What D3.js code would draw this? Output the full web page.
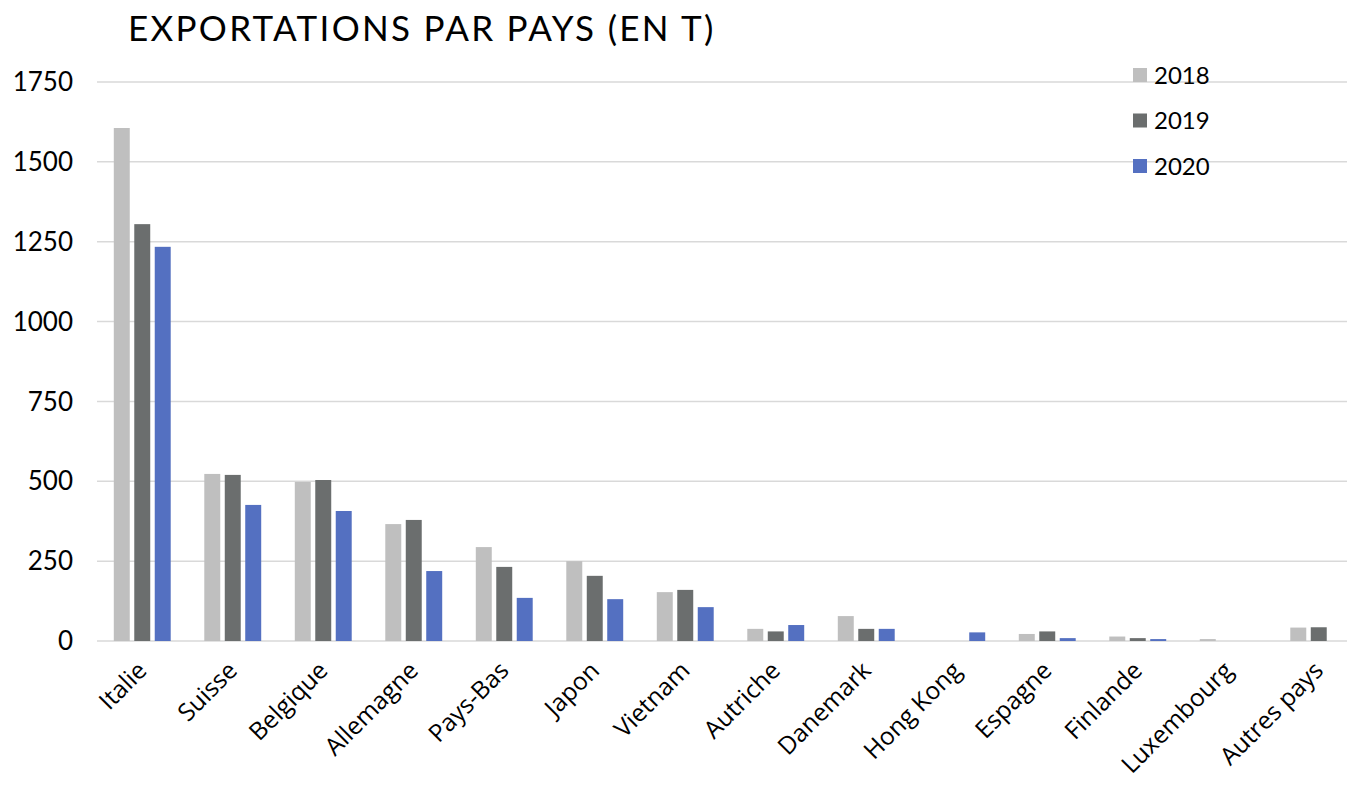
<!DOCTYPE html>
<html>
<head>
<meta charset="utf-8">
<script src="https://cdn.jsdelivr.net/npm/d3@7"></script>
<style>
  body { margin: 0; background: #fff; }
  svg { display: block; }
</style>
</head>
<body>
<svg id="chart" width="1347" height="787"></svg>
<script>
const countries = ['Italie', 'Suisse', 'Belgique', 'Allemagne', 'Pays-Bas', 'Japon', 'Vietnam',
  'Autriche', 'Danemark', 'Hong Kong', 'Espagne', 'Finlande', 'Luxembourg', 'Autres pays']
const years = ['2018', '2019', '2020']
const v2018 = [1606, 523, 498, 366, 294, 250, 153, 38, 78, 0, 22, 14, 6, 42]
const v2019 = [1305, 520, 504, 379, 232, 204, 160, 30, 38, 0, 30, 9, 0, 43]
const v2020 = [1234, 426, 407, 219, 135, 131, 106, 50, 38, 27, 9, 6, 0, 0]
const yTicks = [0, 250, 500, 750, 1000, 1250, 1500, 1750]
const colors = ['#bfbfbf', '#6b6e6e', '#5470c1']

const series = [v2018, v2019, v2020]
const rows = countries.map((c, i) => ({ country: c, values: series.map((s, j) => ({ year: years[j], v: s[i] })) }))

const svg = d3.select('#chart')
const width = +svg.attr('width')
const height = +svg.attr('height')
// plot area runs a little past the right edge of the picture (cropped like the original)
const margin = { left: 97, right: -17, top: 82, bottom: 146 }

const x = d3.scaleBand().domain(countries).range([margin.left, width - margin.right])
const x1 = d3.scaleBand().domain(years).range([0, x.bandwidth()]).paddingInner(0.22).paddingOuter(0.82)
const y = d3.scaleLinear().domain([0, 1750]).range([height - margin.bottom, margin.top])

// grid
svg.append('g')
  .selectAll('line')
  .data(yTicks)
  .join('line')
  .attr('x1', margin.left)
  .attr('x2', width)
  .attr('y1', d => y(d))
  .attr('y2', d => y(d))
  .attr('stroke', '#d9d9d9')
  .attr('stroke-width', 1.5)

// y labels
svg.append('g')
  .selectAll('text')
  .data(yTicks)
  .join('text')
  .attr('x', 73)
  .attr('y', d => y(d))
  .attr('dy', '0.35em')
  .attr('text-anchor', 'end')
  .style('font-family', 'Lato, sans-serif')
  .style('font-size', '26px')
  .attr('fill', '#000')
  .text(d => d)

// bars
const groups = svg.append('g')
  .selectAll('g')
  .data(rows)
  .join('g')
  .attr('transform', d => `translate(${x(d.country)},0)`)

groups.selectAll('rect')
  .data(d => d.values.filter(e => e.v > 0))
  .join('rect')
  .attr('x', d => x1(d.year))
  .attr('width', x1.bandwidth())
  .attr('y', d => y(d.v))
  .attr('height', d => y(0) - y(d.v))
  .attr('fill', d => colors[years.indexOf(d.year)])

// x labels
svg.append('g')
  .selectAll('text')
  .data(countries)
  .join('text')
  .attr('transform', d => `translate(${x(d) + x.bandwidth() / 2},${y(0) + 25}) rotate(-45)`)
  .attr('text-anchor', 'end')
  .attr('dy', '0.35em')
  .style('font-family', '"Open Sans", sans-serif')
  .style('font-size', '24.5px')
  .attr('fill', '#000')
  .text(d => d)

// title
svg.append('text')
  .attr('x', 128)
  .attr('y', 41)
  .style('font-family', 'Lato, sans-serif')
  .style('font-size', '35px')
  .style('letter-spacing', '2.3px')
  .attr('fill', '#000')
  .text('EXPORTATIONS PAR PAYS (EN T)')

// legend
const legend = svg.append('g')
  .selectAll('g')
  .data(years)
  .join('g')
  .attr('transform', (d, i) => `translate(1133,${75 + i * 45.5})`)

legend.append('rect')
  .attr('x', 0)
  .attr('y', -7)
  .attr('width', 14)
  .attr('height', 14)
  .attr('fill', (d, i) => colors[i])

legend.append('text')
  .attr('x', 21)
  .attr('dy', '0.36em')
  .style('font-family', 'Lato, sans-serif')
  .style('font-size', '24px')
  .attr('fill', '#000')
  .text(d => d)
</script>
</body>
</html>
